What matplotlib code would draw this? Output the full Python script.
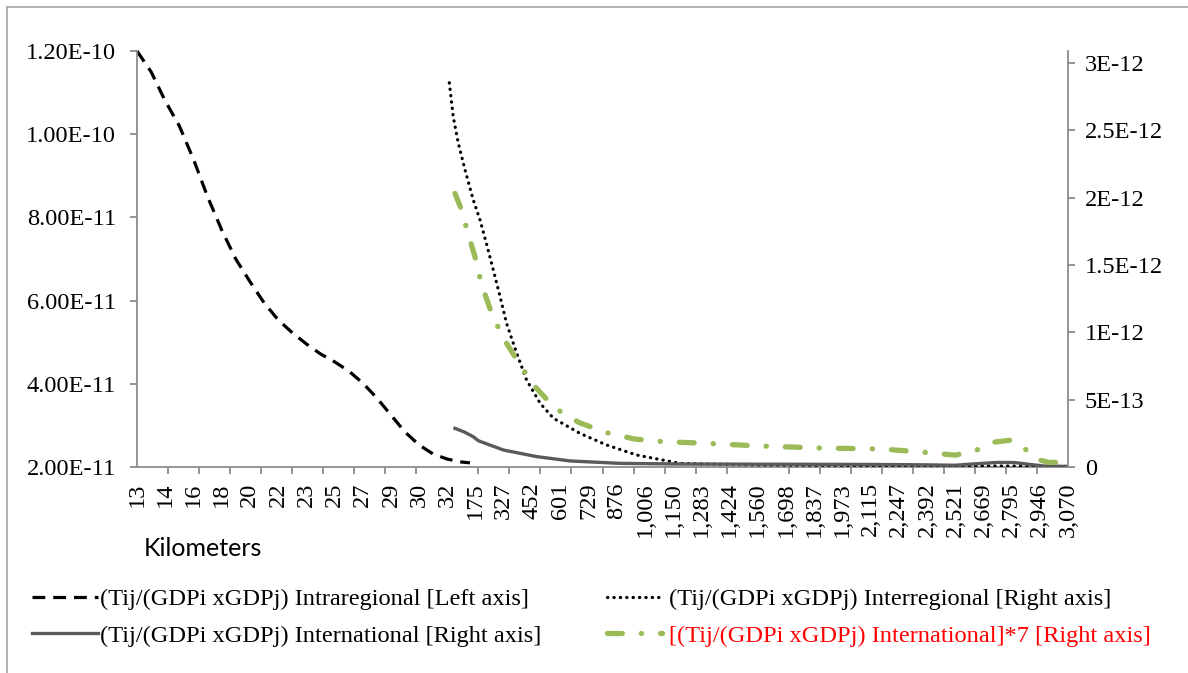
# Trade intensity vs distance, dual axis chart

import numpy as np
import matplotlib.pyplot as plt
from matplotlib.lines import Line2D

# Category labels on the x axis (kilometers)
km_labels = ['13', '14', '16', '18', '20', '22', '23', '25', '27', '29', '30', '32',
             '175', '327', '452', '601', '729', '876', '1,006', '1,150', '1,283', '1,424',
             '1,560', '1,698', '1,837', '1,973', '2,115', '2,247', '2,392', '2,521',
             '2,669', '2,795', '2,946', '3,070']

# Intraregional (left axis), position in label units
intra_pos = [0, 0.5, 1, 1.5, 2, 2.5, 3, 3.5, 4, 4.5, 5, 5.5, 6, 6.5, 7, 7.5, 8, 8.5,
             9, 9.5, 10, 10.5, 11, 11.5, 11.8]
intra_val = [1.20, 1.15, 1.08, 1.02, 0.94, 0.85, 0.77, 0.70, 0.646, 0.595, 0.554, 0.523,
             0.496, 0.472, 0.453, 0.431, 0.402, 0.366, 0.325, 0.284, 0.253, 0.231, 0.219,
             0.212, 0.21]  # x1e-10

# Interregional (right axis)
inter_pos = [11.07, 11.21, 11.39, 11.63, 11.92, 12.16, 12.40, 12.63, 12.87, 13.10, 13.46,
             13.81, 14.29, 14.76, 15.70, 16.65, 17.71, 19.25, 22, 26, 30, 33]
inter_val = [2.854, 2.601, 2.404, 2.205, 1.983, 1.834, 1.649, 1.463, 1.265, 1.067, 0.844,
             0.646, 0.473, 0.362, 0.250, 0.163, 0.089, 0.027, 0.015, 0.010, 0.008, 0.005]  # x1e-12

# International (right axis)
intl_pos = [11.27, 11.6, 11.92, 12.1, 12.99, 14.17, 15.35, 17.12, 19.25, 22, 24, 26,
            28.0, 29.0, 29.8, 30.5, 31.1, 31.7, 32.2, 33]
intl_val = [0.287, 0.26, 0.225, 0.195, 0.126, 0.077, 0.045, 0.027, 0.022, 0.021, 0.020,
            0.019, 0.016, 0.013, 0.025, 0.034, 0.033, 0.018, 0.006, 0.004]  # x1e-12

# International*7 (right axis)
intl7_pos = [11.27, 11.51, 11.69, 11.98, 12.22, 12.57, 12.99, 13.54, 14.11, 14.82, 15.68,
             16.65, 17.63, 18.66, 19.96, 22.08, 24.21, 26.34, 27.6, 29.0, 29.7, 30.4,
             31.0, 31.5, 31.85, 32.3, 33]
intl7_val = [2.032, 1.908, 1.765, 1.562, 1.352, 1.141, 0.956, 0.770, 0.596, 0.436, 0.329,
             0.255, 0.208, 0.188, 0.178, 0.156, 0.141, 0.134, 0.115, 0.088, 0.120, 0.185,
             0.200, 0.130, 0.060, 0.035, 0.033]  # x1e-12

left_ticks = [2e-11, 4e-11, 6e-11, 8e-11, 1e-10, 1.2e-10]
left_tick_labels = ['2.00E-11', '4.00E-11', '6.00E-11', '8.00E-11', '1.00E-10', '1.20E-10']
right_ticks = [0, 5e-13, 1e-12, 1.5e-12, 2e-12, 2.5e-12, 3e-12]
right_tick_labels = ['0', '5E-13', '1E-12', '1.5E-12', '2E-12', '2.5E-12', '3E-12']

labels = ['(Tij/(GDPi xGDPj) Intraregional [Left axis]',
          '(Tij/(GDPi xGDPj) International [Right axis]',
          '(Tij/(GDPi xGDPj) Interregional [Right axis]',
          '[(Tij/(GDPi xGDPj) International]*7 [Right axis]']

serif = 'Liberation Serif'
fs = 17.6
axis_gray = '#8c8c8c'

fig = plt.figure(figsize=(11.88, 6.73), dpi=100)
ax = fig.add_axes([137/1188, 1-467/673, (1068-137)/1188, (467-51)/673])
ax2 = ax.twinx()

l1, = ax.plot(intra_pos, np.array(intra_val)*1e-10, color='black', lw=2.3,
              linestyle=(0, (4, 2.5)), clip_on=False)
l3, = ax2.plot(inter_pos, np.array(inter_val)*1e-12, color='black', lw=2.3,
               linestyle=(0, (0.1, 1.9)), dash_capstyle='round')
l2, = ax2.plot(intl_pos, np.array(intl_val)*1e-12, color='#5a5a5a', lw=2.4)
l4, = ax2.plot(intl7_pos, np.array(intl7_val)*1e-12, color='#9bbb59', lw=3.8,
               linestyle=(0, (2.8, 3.6, 0.05, 3.6)), dash_capstyle='round')

ax.set_xlim(0, 33)
ax.set_ylim(2e-11, 1.2e-10)
ax2.set_ylim(0, 3.09e-12)

ax.set_yticks(left_ticks)
ax.set_yticklabels(left_tick_labels, fontfamily=serif, fontsize=fs)
ax2.set_yticks(right_ticks)
ax2.set_yticklabels(right_tick_labels, fontfamily=serif, fontsize=fs)

ax.set_xticks(np.arange(len(km_labels)))
ax.set_xticklabels(km_labels, rotation=90, fontfamily=serif, fontsize=fs)
ax.set_xticks(np.linspace(0, 33, 31), minor=True)
ax.tick_params(axis='x', which='major', length=0, pad=11)
ax.tick_params(axis='x', which='minor', length=5, color=axis_gray, width=1.3)
ax.tick_params(axis='y', length=5, color=axis_gray, width=1.3, pad=10)
ax2.tick_params(axis='y', length=5, color=axis_gray, width=1.3, pad=7)

for a in (ax, ax2):
    a.spines['top'].set_visible(False)
    for s in ('left', 'right', 'bottom'):
        a.spines[s].set_color(axis_gray)
        a.spines[s].set_linewidth(1.3)
ax.spines['right'].set_visible(False)
ax2.spines['left'].set_visible(False)
ax2.spines['bottom'].set_visible(False)

fig.text(144/1188, 1-548/673, 'Kilometers', fontfamily='Lato', fontsize=18, va='center')

# legend, one column at a time
leg_a = fig.legend([l1, l2], labels[:2], loc='upper left',
                   bbox_to_anchor=(32/1188, 1-588/673), frameon=False,
                   prop={'family': serif, 'size': fs}, handlelength=2.7,
                   handletextpad=0.1, labelspacing=0.6, borderpad=0, borderaxespad=0)
leg_b = fig.legend([l3, l4], labels[2:], loc='upper left',
                   bbox_to_anchor=(607/1188, 1-588/673), frameon=False,
                   prop={'family': serif, 'size': fs}, handlelength=2.25,
                   handletextpad=0.3, labelspacing=0.6, borderpad=0, borderaxespad=0)
leg_b.get_texts()[1].set_color('red')

# outer chart border
fig.add_artist(Line2D([7/1188, 7/1188], [0, 1-7/673], color='#a6a6a6', lw=1.2))
fig.add_artist(Line2D([7/1188, 1], [1-7/673, 1-7/673], color='#a6a6a6', lw=1.2))

fig.savefig('out.png', dpi=100)
